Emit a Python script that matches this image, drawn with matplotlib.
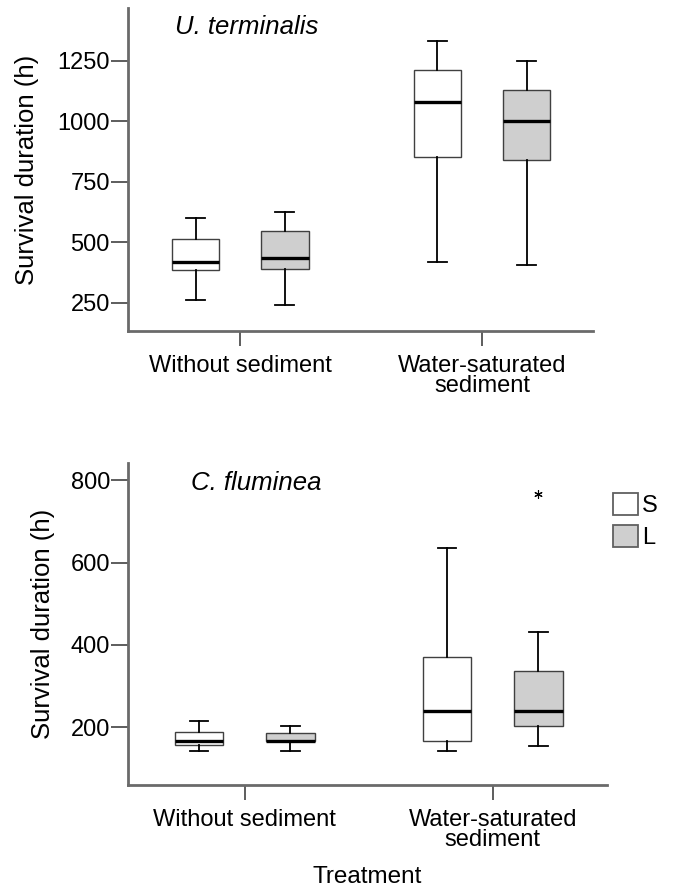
import matplotlib.pyplot as plt
from matplotlib.patches import Patch

plt.rcParams['font.family'] = ['Liberation Sans', 'DejaVu Sans']

# treatments and size classes
treatments = ['Without sediment', 'Water-saturated\nsediment']
sizes = ['S', 'L']
size_colors = ['white', '#cfcfcf']

# U. terminalis box stats (h): whislo, q1, med, q3, whishi per treatment
ut_S = [[263, 383, 420, 515, 598], [419, 854, 1081, 1211, 1331]]
ut_L = [[240, 390, 434, 548, 625], [407, 840, 1002, 1129, 1249]]
ut_fliers_S = [[], []]
ut_fliers_L = [[], []]

# C. fluminea box stats (h)
cf_S = [[141, 156, 167, 189, 214], [142, 166, 239, 371, 636]]
cf_L = [[141, 165, 167, 185, 203], [155, 203, 239, 336, 432]]
cf_fliers_S = [[], []]
cf_fliers_L = [[], [768]]

ut_yticks = [250, 500, 750, 1000, 1250]
cf_yticks = [200, 400, 600, 800]


def make_stats(vals, fliers):
    lo, q1, med, q3, hi = vals
    return dict(whislo=lo, q1=q1, med=med, q3=q3, whishi=hi, fliers=fliers)


def draw_panel(ax, S, L, fS, fL, title, title_xy, yticks, ylim, xlim, width, label_x):
    offset = 0.184
    for i, (stats, fl, col) in enumerate([(S, fS, size_colors[0]), (L, fL, size_colors[1])]):
        pos = [g + (-offset if i == 0 else offset) for g in range(len(treatments))]
        bstats = [make_stats(v, f) for v, f in zip(stats, fl)]
        ax.bxp(bstats, positions=pos, widths=width, patch_artist=True,
               boxprops=dict(facecolor=col, edgecolor='#404040', linewidth=1.0),
               medianprops=dict(color='black', linewidth=2.4),
               whiskerprops=dict(color='black', linewidth=1.3),
               capprops=dict(color='black', linewidth=1.3),
               capwidths=0.075,
               flierprops=dict(marker=(6, 2, 0), markersize=6, markeredgecolor='black',
                               markeredgewidth=0.8, linestyle='none'),
               manage_ticks=False)
    ax.set_xlim(*xlim)
    ax.set_ylim(*ylim)
    ax.set_xticks(range(len(treatments)))
    ax.set_xticklabels(treatments, fontsize=17, linespacing=0.9)
    ax.set_yticks(yticks)
    ax.tick_params(axis='y', labelsize=17, length=12.5, width=1.3, color='#505050', pad=0.5)
    ax.tick_params(axis='x', length=11, width=1.3, color='#505050', pad=6)
    for s in ['top', 'right']:
        ax.spines[s].set_visible(False)
    for s in ['left', 'bottom']:
        ax.spines[s].set_color('#6a6a6a')
        ax.spines[s].set_linewidth(2.0)
    ax.set_ylabel('Survival duration (h)', fontsize=18.5)
    ax.yaxis.set_label_coords(label_x, 0.5)
    ax.text(title_xy[0], title_xy[1], title, transform=ax.transAxes, fontsize=18.5,
            style='italic', va='baseline', ha='left')


fig = plt.figure(figsize=(6.73, 8.94), dpi=100)
ax1 = fig.add_axes([0.1902, 0.6298, 0.691, 0.3613])
ax2 = fig.add_axes([0.1902, 0.1219, 0.7117, 0.360])

draw_panel(ax1, ut_S, ut_L, ut_fliers_S, ut_fliers_L, 'U. terminalis', (0.101, 0.92),
           ut_yticks, (133, 1468), (-0.463, 1.459), 0.198, -0.191)
draw_panel(ax2, cf_S, cf_L, cf_fliers_S, cf_fliers_L, 'C. fluminea', (0.1315, 0.916),
           cf_yticks, (59, 842), (-0.47, 1.46), 0.195, -0.152)
ax2.set_xlabel('Treatment', fontsize=17.5, labelpad=11)

# legend squares outside bottom panel
handles = [Patch(facecolor=c, edgecolor='#606060', linewidth=1.3, label=s)
           for s, c in zip(sizes, size_colors)]
fig.legend(handles=handles, loc='upper left', bbox_to_anchor=(0.911, 0.449),
           frameon=False, fontsize=17, handlelength=1.07, handleheight=1.07,
           handletextpad=0.15, labelspacing=0.33, borderaxespad=0, borderpad=0)

fig.savefig('out.png', dpi=100)
